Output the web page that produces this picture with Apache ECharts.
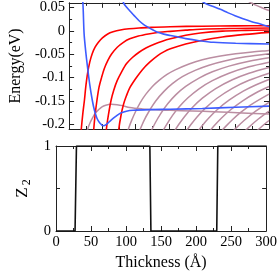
<!DOCTYPE html>
<html><head><meta charset="utf-8">
<script src="https://cdn.jsdelivr.net/npm/echarts@6/dist/echarts.min.js"></script>
<style>html,body{margin:0;padding:0;background:#fff}#c{width:280px;height:274px}</style>
</head><body><div id="c"></div>
<script>
// ---- tick definitions ----
const eTickValues = [-0.2, -0.15, -0.1, -0.05, 0, 0.05];
const eTickLabels = ['-0.2', '-0.15', '-0.1', '-0.05', '0', '0.05'];
const eMinorTicks = [-0.175, -0.125, -0.075, -0.025, 0.025];
const zTickLabels = ['0', '1'];

// ---- red levels [thickness, energy] ----
const red1 = [[17,-0.235],[18.3,-0.21],[20.5,-0.178],[23,-0.1485],[25,-0.12],[27.7,-0.091],[31,-0.067],[34.8,-0.0485],[39,-0.035],[44,-0.0245],[50,-0.015],[58,-0.0066],[66,-0.002],[77,0.0019],[90,0.0045],[105,0.0062],[125,0.0075],[152,0.0089],[200,0.010],[250,0.0107],[300,0.011]];
const red2 = [[36,-0.235],[37,-0.21],[39,-0.18],[41.8,-0.1485],[45,-0.12],[48.9,-0.099],[53,-0.08],[58.2,-0.063],[64,-0.049],[72.3,-0.035],[81,-0.025],[91,-0.017],[104,-0.011],[119,-0.0066],[135,-0.003],[152,-0.001],[175,0.0015],[197,0.0036],[250,0.0052],[300,0.0062]];
const red3 = [[55,-0.235],[56,-0.21],[59,-0.18],[63,-0.1485],[67,-0.127],[72.3,-0.106],[79,-0.087],[86.3,-0.070],[95,-0.057],[105,-0.0457],[116,-0.036],[128.6,-0.028],[140,-0.022],[152,-0.017],[175,-0.0095],[197,-0.0045],[230,-0.0005],[265,0.001],[300,0.0019]];
const red4 = [[73.5,-0.235],[74.6,-0.21],[78,-0.18],[81.7,-0.157],[86,-0.139],[91,-0.122],[100,-0.102],[110,-0.083],[121,-0.067],[133,-0.053],[142,-0.045],[152,-0.0385],[175,-0.028],[197,-0.021],[230,-0.013],[265,-0.0075],[300,-0.0032]];

// ---- blue levels ----
const blueA = [[19,0.08],[20.7,0.06],[22.5,-0.006],[25,-0.045],[27.7,-0.078],[31,-0.115],[34.8,-0.1485],[38,-0.17],[41.8,-0.187],[46,-0.197],[51,-0.203],[56,-0.2],[63,-0.191],[70,-0.183],[77,-0.176],[86,-0.172],[96,-0.170],[120,-0.1685],[152,-0.1677],[200,-0.166],[250,-0.1635],[300,-0.161]];
const blueB = [[79,0.075],[81.7,0.06],[86,0.051],[91,0.043],[98,0.032],[105,0.0217],[112,0.0135],[119,0.0075],[126,0.002],[133,-0.0032],[142,-0.007],[152,-0.010],[165,-0.0135],[175,-0.0166],[195,-0.021],[217,-0.0245],[250,-0.0265],[300,-0.028]];
const blueC = [[195,0.07],[203,0.06],[214,0.053],[226,0.0466],[238,0.039],[249,0.0323],[261,0.026],[273,0.0202],[287,0.0145],[300,0.009]];

// ---- mauve levels ----
const mauveHump = [[26,-0.235],[28,-0.21],[32,-0.195],[36,-0.184],[39.4,-0.176],[44,-0.169],[48.8,-0.163],[55,-0.159],[63,-0.157],[72,-0.158],[80,-0.160],[91,-0.164],[110,-0.167],[130,-0.169],[152,-0.170],[185,-0.1715],[217,-0.173],[260,-0.1755],[300,-0.178]];
const mauveTop = [[265,0.067],[273,0.06],[287,0.051],[300,0.0435]];
const mauve5 = [[85,-0.228],[89,-0.210],[94,-0.191],[100,-0.172],[107,-0.153],[115,-0.136],[125,-0.119],[135,-0.106],[147,-0.0933],[160,-0.083],[180,-0.0708],[200,-0.062],[225,-0.0545],[250,-0.049],[275,-0.045],[300,-0.042]];
const mauve6 = [[102,-0.228],[106,-0.213],[112,-0.193],[120,-0.172],[130,-0.150],[142,-0.130],[155,-0.113],[170,-0.098],[190,-0.084],[210,-0.0734],[235,-0.0638],[265,-0.0556],[300,-0.049]];
const mauve7 = [[119,-0.228],[123,-0.215],[130,-0.195],[138,-0.176],[148,-0.156],[160,-0.137],[175,-0.119],[195,-0.101],[215,-0.0876],[240,-0.0754],[270,-0.065],[300,-0.0575]];
const mauve8 = [[136,-0.228],[140,-0.216],[147,-0.199],[155,-0.1813],[165,-0.163],[178,-0.1437],[195,-0.124],[215,-0.1066],[240,-0.0906],[270,-0.077],[300,-0.0672]];
const mauve9 = [[153,-0.228],[158,-0.215],[165,-0.1994],[174,-0.182],[185,-0.1639],[200,-0.144],[220,-0.1234],[245,-0.1045],[270,-0.0906],[300,-0.0783]];
const mauve10 = [[170,-0.228],[175,-0.2164],[182,-0.202],[192,-0.1841],[205,-0.1647],[222,-0.1442],[245,-0.123],[270,-0.1058],[300,-0.0906]];
const mauve11 = [[187,-0.228],[192,-0.2174],[200,-0.2023],[210,-0.1859],[223,-0.1678],[240,-0.1484],[262,-0.1286],[280,-0.1158],[300,-0.1042]];
const mauve12 = [[204,-0.228],[209,-0.2182],[217,-0.2043],[228,-0.1875],[242,-0.1693],[260,-0.1501],[280,-0.133],[300,-0.1191]];
const mauve13 = [[221,-0.228],[226,-0.219],[234,-0.206],[245,-0.1901],[258,-0.174],[275,-0.1562],[300,-0.1354]];
const mauve14 = [[238,-0.228],[244,-0.218],[252,-0.206],[263,-0.1912],[280,-0.1717],[300,-0.1529]];
const mauve15 = [[255,-0.228],[261,-0.2186],[270,-0.2059],[284,-0.1886],[300,-0.1717]];
const mauve16 = [[272,-0.228],[280,-0.2164],[290,-0.2035],[300,-0.1918]];
const mauve17 = [[289,-0.228],[295,-0.2197],[300,-0.2132]];

// ---- Z2 invariant ----
const z2 = [[0,0],[27.2,0],[29.2,1],[134,1],[135.5,0],[229.5,0],[231,1],[300,1]];

const mauveList = [mauveHump, mauveTop, mauve5, mauve6, mauve7, mauve8, mauve9, mauve10, mauve11, mauve12, mauve13, mauve14, mauve15, mauve16, mauve17];
const redList = [red1, red2, red3, red4];
const blueList = [blueA, blueB, blueC];

const FONT = 'Liberation Serif';
const AX = '#222';
function line(data, color, w, z) {
  return {type:'line', data, xAxisIndex:0, yAxisIndex:0, symbol:'none', showSymbol:false,
    smooth:0.3, lineStyle:{color, width:w}, z, silent:true, animation:false};
}
const series = [];
mauveList.forEach(d => series.push(line(d, '#bb8ea2', 1.5, 2)));
redList.forEach(d => series.push(line(d, '#ff0000', 1.6, 3)));
blueList.forEach(d => series.push(line(d, '#3d5cff', 1.6, 4)));
series.push({type:'line', data:z2, xAxisIndex:2, yAxisIndex:4, symbol:'none', showSymbol:false,
  lineStyle:{color:'#111', width:1.6}, z:5, silent:true, animation:false});

function xAx(grid, pos, labels, name) {
  return {type:'value', gridIndex:grid, position:pos, min:0, max:300, interval:50,
    axisLine:{show:true, onZero:false, lineStyle:{color:AX, width:1}},
    axisTick:{show:true, inside:true, length:5, lineStyle:{color:AX}},
    minorTick:{show:true, splitNumber:2, length:3, lineStyle:{color:AX}},
    splitLine:{show:false},
    axisLabel:{show:labels, margin:4, fontFamily:FONT, fontSize:14.5, color:'#000'},
    name: name || '', nameLocation:'middle', nameGap:24,
    nameTextStyle:{fontFamily:FONT, fontSize:16, color:'#000'}};
}
function eAx(pos, ticks, len, labels, lineShow, name) {
  return {type:'value', gridIndex:0, position:pos, min:-0.21, max:0.06,
    axisLine:{show:lineShow, onZero:false, lineStyle:{color:AX, width:1}},
    axisTick:{show:true, inside:true, length:len, customValues:ticks, lineStyle:{color:AX}},
    splitLine:{show:false},
    axisLabel:{show:labels, margin:4, customValues:eTickValues, fontFamily:FONT, fontSize:14.5, color:'#000',
      formatter: v => { const i = eTickValues.findIndex(t => Math.abs(t - v) < 1e-9); return i >= 0 ? eTickLabels[i] : ''; }},
    name: name || '', nameLocation:'middle', nameGap:34,
    nameTextStyle:{fontFamily:FONT, fontSize:16, color:'#000'}};
}
function zAx(pos, labels, name) {
  return {type:'value', gridIndex:1, position:pos, min:0, max:1, interval:1,
    axisLine:{show:true, onZero:false, lineStyle:{color:AX, width:1}},
    axisTick:{show:true, inside:true, length:5, lineStyle:{color:AX}},
    minorTick:{show:true, splitNumber:2, length:4, lineStyle:{color:AX}},
    splitLine:{show:false},
    axisLabel:{show:labels, margin:5, fontFamily:FONT, fontSize:14.5, color:'#000',
      formatter: v => zTickLabels[Math.round(v)]},
    name: name || '', nameLocation:'middle', nameGap:14,
    nameTextStyle:{fontFamily:FONT, fontSize:17, color:'#000',
      rich:{s:{fontFamily:FONT, fontSize:12, color:'#000', padding:[8,0,0,2]}}}};
}

const chart = echarts.init(document.getElementById('c'), null, {renderer:'canvas'});
chart.setOption({
  animation:false,
  backgroundColor:'#fff',
  grid:[
    {left:56, right:11, top:2, height:127},
    {left:56, right:11, top:146, height:85}
  ],
  xAxis:[ xAx(0,'bottom',false), xAx(0,'top',false), xAx(1,'bottom',true,'Thickness (Å)'), xAx(1,'top',false) ],
  yAxis:[
    eAx('left', eTickValues, 5, true, true, 'Energy(eV)'),
    eAx('left', eMinorTicks, 3, false, false),
    eAx('right', eTickValues, 5, false, true),
    eAx('right', eMinorTicks, 3, false, false),
    zAx('left', true, 'Z{s|2}'),
    zAx('right', false)
  ],
  series
});
</script></body></html>
